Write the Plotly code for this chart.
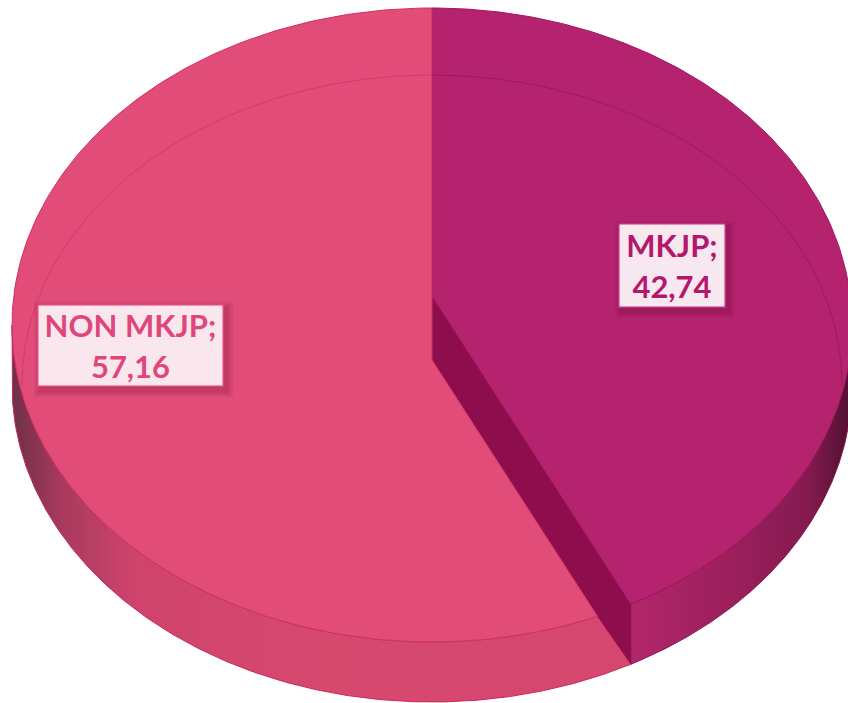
import numpy as np
import plotly.graph_objects as go

# ---- data ----
categories = ["MKJP", "NON MKJP"]
values = [42.74, 57.16]

# ---- styles ----
top_colors = ["#b5236f", "#e14c79"]
edge_colors = ["#a3135f", "#d0305f"]
wedge_color = "#8e0e4d"
text_colors = ["#b3186d", "#e0467a"]
box_fills = ["#f7e7ef", "#fae7ee"]
box_borders = ["#c0307a", "#e0467a"]
label_pos = [(672, 265.5), (130.5, 345.5)]
label_size = [(108, 85), (187, 83)]

# ---- geometry (pixel-like plot units) ----
W, H = 848, 703
CX, CY, RX, RY = 432, 325, 420, 317
DEPTH = 60
P1 = (432, 296)   # vertex of first slice's top
P2 = (432, 360)   # vertex of second slice's top
ICX, ICY, IRX, IRY = 432, 385, 410, 310  # bevel line


def ray_hit(p, phi, dy=0.0):
    px, py = p
    dx, dyv = RX * np.sin(phi), -RY * np.cos(phi)
    ax, bx = (px - CX) / RX, dx / RX
    ay, by = (py - CY - dy) / RY, dyv / RY
    A = bx * bx + by * by
    B = 2 * (ax * bx + ay * by)
    C = ax * ax + ay * ay - 1
    t = (-B + np.sqrt(B * B - 4 * A * C)) / (2 * A)
    return px + t * dx, py + t * dyv


def param_of(x, y, dy=0.0):
    return np.arctan2((x - CX) / RX, -(y - CY - dy) / RY) % (2 * np.pi)


def arc(a, b, dy=0.0, n=240, cx=CX, cy=CY, rx=RX, ry=RY):
    ph = np.linspace(a, b, n)
    return list(cx + rx * np.sin(ph)), list(cy + dy - ry * np.cos(ph))


total = sum(values)
theta = 2 * np.pi * values[0] / total

I1 = ray_hit(P1, theta)
I2 = ray_hit(P2, theta)
phi1 = param_of(*I1)
phi2 = param_of(*I2)

fig = go.Figure()


def poly(xs, ys, color, line_color=None, lw=0.0, grad=None, name=""):
    kw = dict(
        x=xs, y=ys, mode="lines", fill="toself",
        line=dict(color=line_color or color, width=lw),
        hoverinfo="skip", showlegend=False, name=name,
    )
    if grad is not None:
        kw["fillgradient"] = dict(type="horizontal", colorscale=grad)
    else:
        kw["fillcolor"] = color
    fig.add_trace(go.Scatter(**kw))


# side of second slice (front-left)
ax1, ay1 = arc(phi2, 1.5 * np.pi)
ax2, ay2 = arc(1.5 * np.pi, phi1, dy=DEPTH)
poly(ax1 + ax2 + [I2[0]], ay1 + ay2 + [I2[1]], "#d5476f", "#c8285e", 1.0,
     grad=[[0, "#6e3048"], [0.08, "#a83a5e"], [0.2, "#cf446c"],
           [0.5, "#d7486f"], [1, "#d5476f"]], name=categories[1])

# side of first slice (front-right)
bx1, by1 = arc(phi1, 0.5 * np.pi)
bx2, by2 = arc(0.5 * np.pi, phi1, dy=DEPTH)
poly(bx1 + bx2, by1 + by2, "#a3205f", "#8a1450", 1.0,
     grad=[[0, "#b2276a"], [0.45, "#9c1f5c"], [0.8, "#851a50"],
           [1, "#4e1030"]], name=categories[0])

# exposed cut wall of first slice
poly([P1[0], I1[0], I1[0], I2[0], P2[0], P1[0]],
     [P1[1], I1[1], I1[1] + DEPTH, I2[1], P2[1], P1[1]],
     wedge_color, wedge_color, 0.5)

# top of first slice
tx, ty = arc(0, phi1)
poly([P1[0]] + tx + [P1[0]], [P1[1]] + ty + [P1[1]], top_colors[0],
     edge_colors[0], 1.0, name=categories[0])

# top of second slice
sx, sy = arc(phi2, 2 * np.pi)
poly([P2[0], I2[0]] + sx + [P2[0]], [P2[1], I2[1]] + sy + [P2[1]],
     top_colors[1], edge_colors[1], 1.0, name=categories[1])

# bevel lines on top faces
lx, ly = arc(0, 0.5 * np.pi, cx=ICX, cy=ICY, rx=IRX, ry=IRY)
fig.add_trace(go.Scatter(x=lx, y=ly, mode="lines",
                         line=dict(color="#a3165f", width=1),
                         hoverinfo="skip", showlegend=False))
lx, ly = arc(1.5 * np.pi, 2 * np.pi, cx=ICX, cy=ICY, rx=IRX, ry=IRY)
fig.add_trace(go.Scatter(x=lx, y=ly, mode="lines",
                         line=dict(color="#d33a68", width=1),
                         hoverinfo="skip", showlegend=False))

# labels
for i, cat in enumerate(categories):
    x, y = label_pos[i]
    w, h = label_size[i]
    for k, a in ((6, 0.06), (4, 0.08), (2, 0.10)):
        fig.add_shape(type="rect", xref="x", yref="y",
                      x0=x - w / 2 - k + 3, x1=x + w / 2 + k + 3,
                      y0=y - h / 2 - k + 4, y1=y + h / 2 + k + 4,
                      fillcolor=f"rgba(90,0,40,{a})", line_width=0,
                      layer="above")
    txt = f"{cat};<br>{values[i]:.2f}".replace(".", ",")
    fig.add_annotation(x=x, y=y, xref="x", yref="y", text=txt,
                       showarrow=False, align="center", valign="middle",
                       font=dict(family="Lato", size=31, color=text_colors[i],
                                 weight=700),
                       bgcolor=box_fills[i], bordercolor=box_borders[i],
                       borderwidth=1.5, borderpad=0, width=w - 3, height=h - 3)

fig.update_layout(
    width=W, height=H, margin=dict(l=0, r=0, t=0, b=0),
    paper_bgcolor="white", plot_bgcolor="white",
    xaxis=dict(range=[0, W], visible=False, fixedrange=True),
    yaxis=dict(range=[H, 0], visible=False, fixedrange=True),
    showlegend=False,
)

fig.write_html("out.html", config={"displayModeBar": False},
               post_script="document.body.style.margin='0';"
                           "document.body.style.overflow='hidden';")
